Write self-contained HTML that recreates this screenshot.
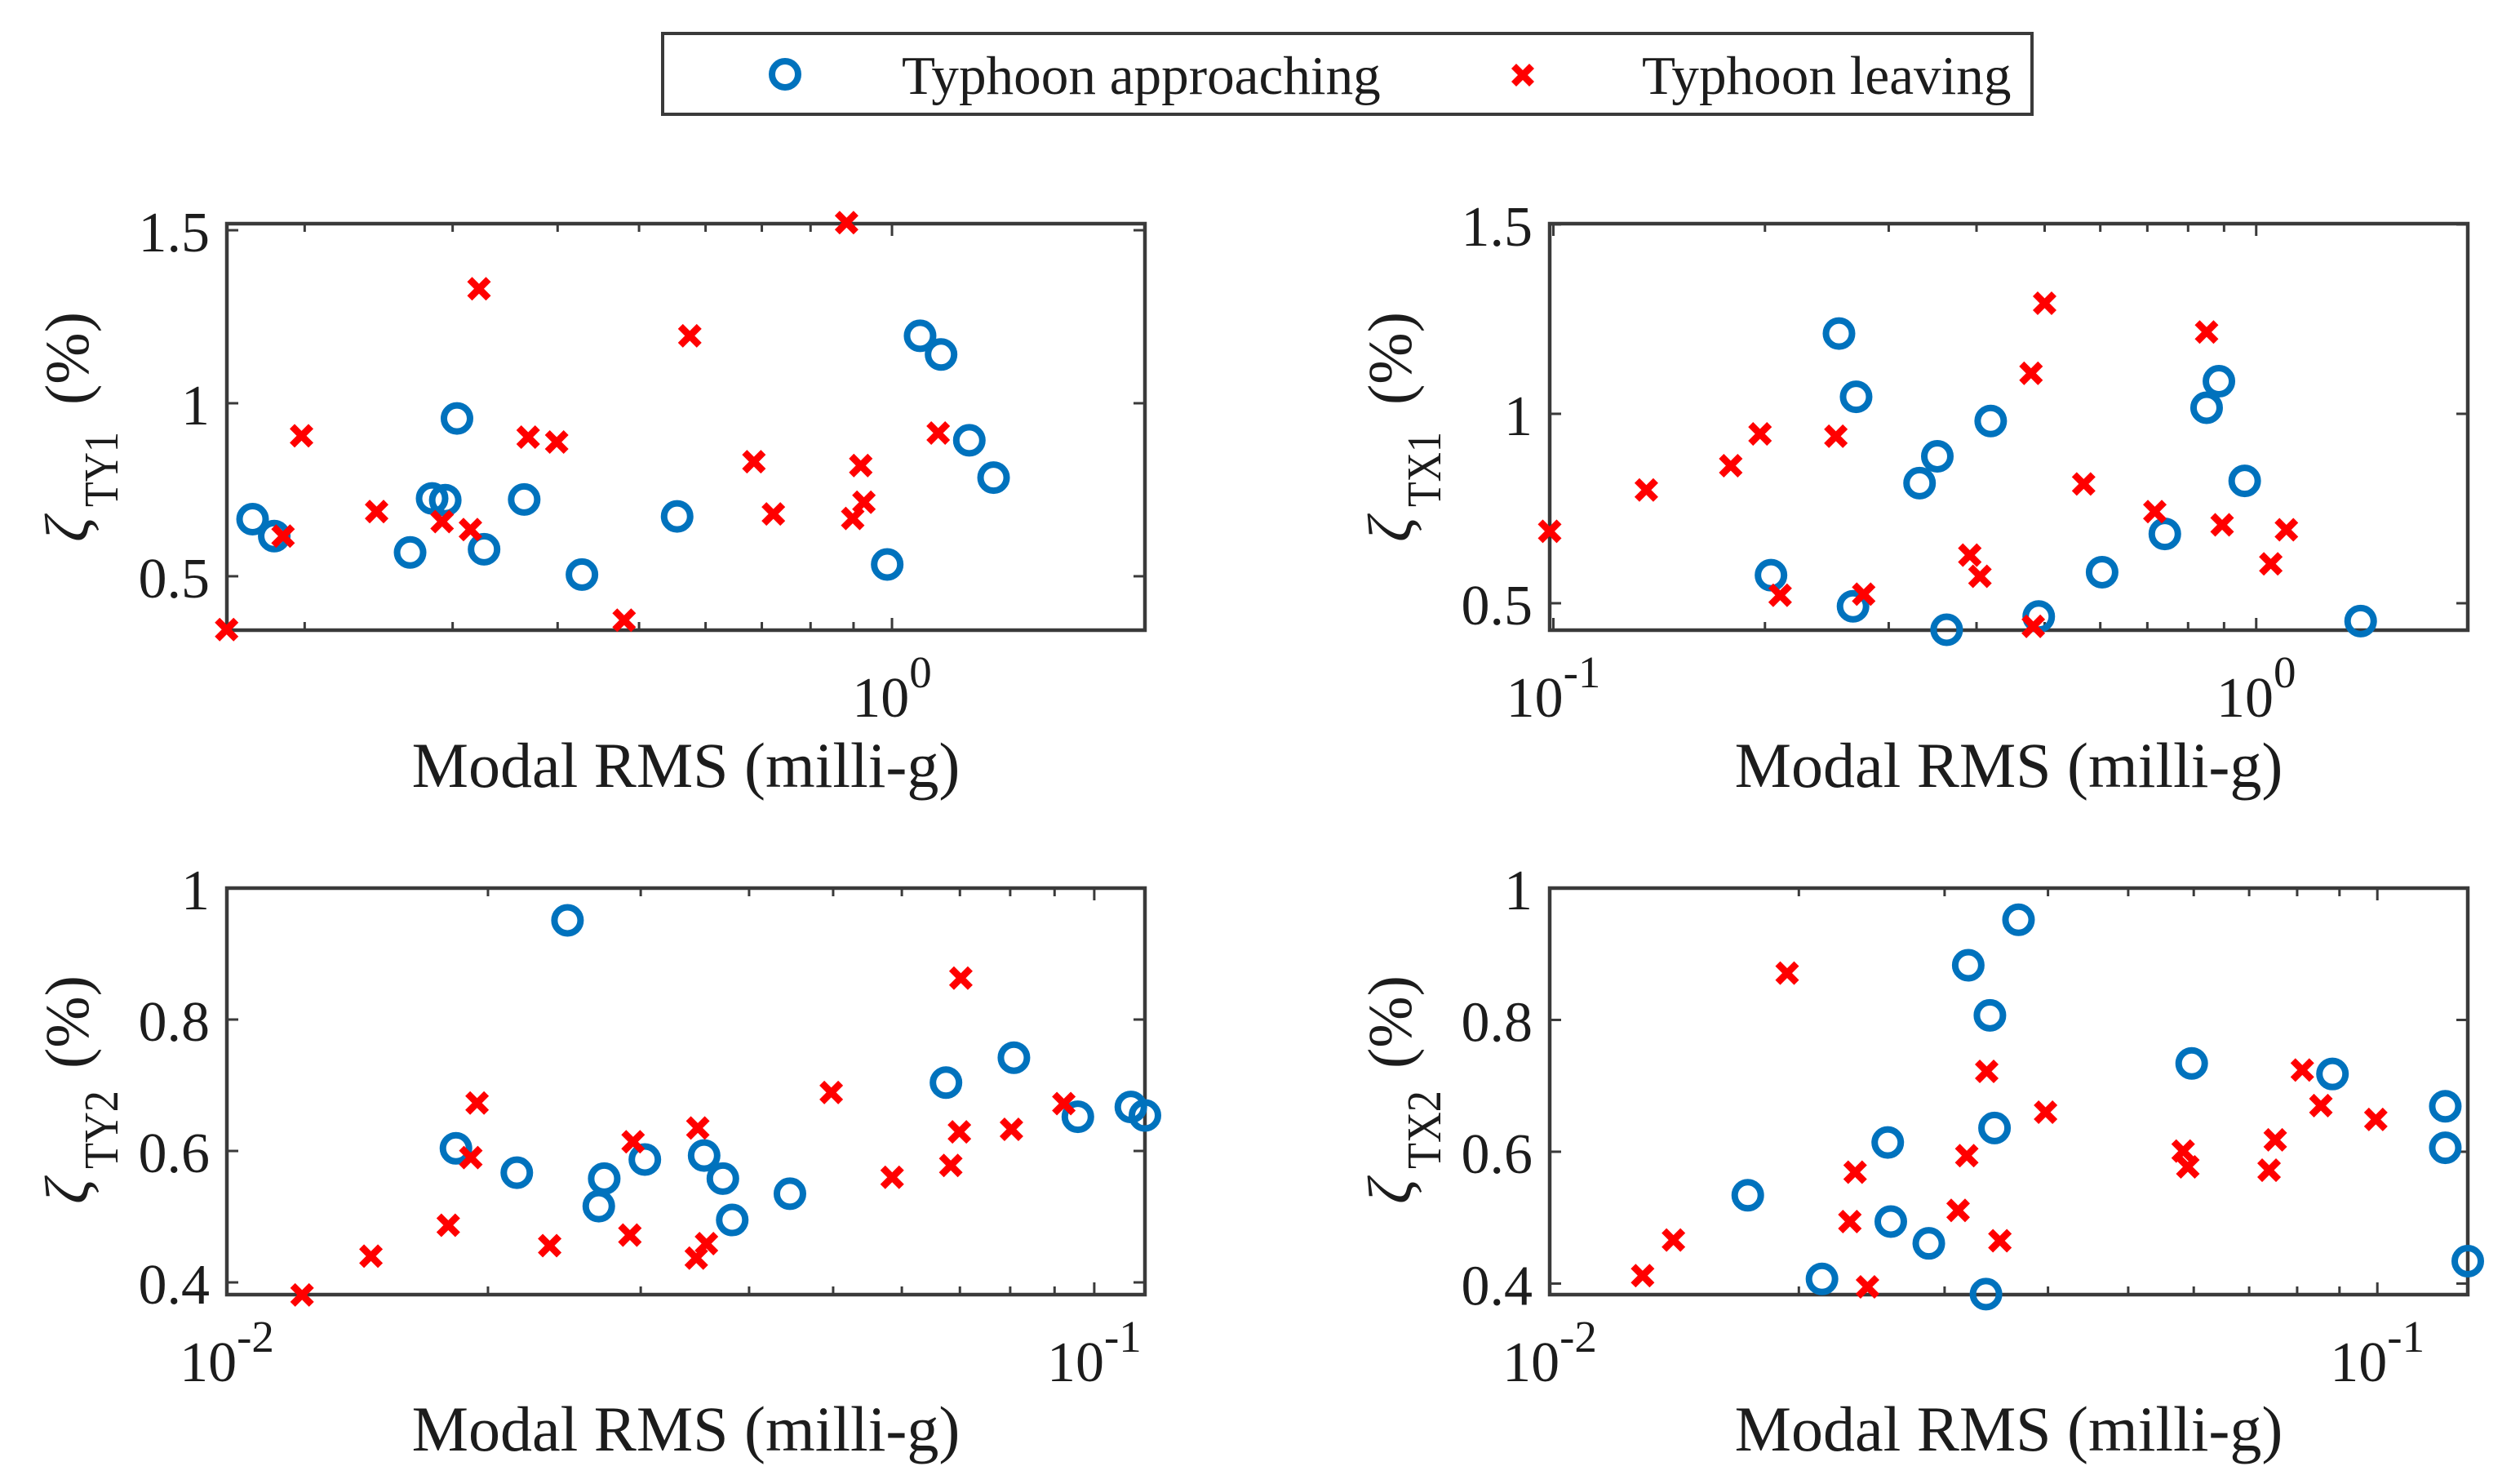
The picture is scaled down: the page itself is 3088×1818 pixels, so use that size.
<!DOCTYPE html>
<html lang="en">
<head>
<meta charset="utf-8">
<title>Modal damping versus modal RMS</title>
<style>
html,body{margin:0;padding:0;background:#fff;}
svg{display:block;}
text{font-family:"Liberation Serif","DejaVu Serif",serif;fill:#1c1c1c;}
</style>
</head>
<body>
<svg id="figure" xmlns="http://www.w3.org/2000/svg" width="3088" height="1818" viewBox="0 0 3088 1818">
  <rect x="0" y="0" width="3088" height="1818" fill="#ffffff"/>

  <g>
    <rect x="812" y="41" width="1678" height="99" fill="#fff" stroke="#3a3a3a" stroke-width="4"/>
    <circle cx="962" cy="91" r="16" fill="none" stroke="#0072BD" stroke-width="8"/>
    <text x="1105" y="115" font-size="67.2">Typhoon approaching</text>
    <g stroke="#ff0000" stroke-width="8.5">
      <line x1="1855" y1="81" x2="1877" y2="103"/>
      <line x1="1855" y1="103" x2="1877" y2="81"/>
    </g>
    <text x="2012" y="115" font-size="67.2">Typhoon leaving</text>
  </g>

  <g id="panel-ty1">
    <text x="840.5" y="964" font-size="78" text-anchor="middle">Modal RMS (milli-g)</text>
    <text transform="translate(108,664) rotate(-90)" font-size="76" font-style="italic">ζ</text>
    <text transform="translate(144,621) rotate(-90)" font-size="59" textLength="92" lengthAdjust="spacingAndGlyphs">TY1</text>
    <text transform="translate(108,496) rotate(-90)" font-size="76">(%)</text>
  </g>
  <g id="panel-tx1">
    <text x="2461.5" y="964" font-size="78" text-anchor="middle">Modal RMS (milli-g)</text>
    <text transform="translate(1729,664) rotate(-90)" font-size="76" font-style="italic">ζ</text>
    <text transform="translate(1765,621) rotate(-90)" font-size="59" textLength="92" lengthAdjust="spacingAndGlyphs">TX1</text>
    <text transform="translate(1729,496) rotate(-90)" font-size="76">(%)</text>
  </g>
  <g id="panel-ty2">
    <text x="840.5" y="1777" font-size="78" text-anchor="middle">Modal RMS (milli-g)</text>
    <text transform="translate(108,1475) rotate(-90)" font-size="76" font-style="italic">ζ</text>
    <text transform="translate(144,1432) rotate(-90)" font-size="59" textLength="96" lengthAdjust="spacingAndGlyphs">TY2</text>
    <text transform="translate(108,1309) rotate(-90)" font-size="76">(%)</text>
  </g>
  <g id="panel-tx2">
    <text x="2461.5" y="1777" font-size="78" text-anchor="middle">Modal RMS (milli-g)</text>
    <text transform="translate(1729,1475) rotate(-90)" font-size="76" font-style="italic">ζ</text>
    <text transform="translate(1765,1432) rotate(-90)" font-size="59" textLength="96" lengthAdjust="spacingAndGlyphs">TX2</text>
    <text transform="translate(1729,1309) rotate(-90)" font-size="76">(%)</text>
  </g>
</svg>

<script>
// TY1 data
const ty1ApproachX = [0.1734,0.184,0.267,0.2836,0.294,0.3036,0.327,0.365,0.4276,0.555,0.987,1.08,1.144,1.236,1.321];
const ty1ApproachY = [0.665,0.616,0.569,0.725,0.72,0.956,0.578,0.722,0.505,0.673,0.534,1.195,1.141,0.893,0.785];
const ty1LeavingX = [0.1615,0.1885,0.1983,0.2436,0.2915,0.315,0.3225,0.369,0.399,0.48,0.5746,0.685,0.7225,0.898,0.926,0.918,0.883,1.135];
const ty1LeavingY = [0.346,0.616,0.906,0.687,0.658,0.635,1.331,0.902,0.888,0.373,1.195,0.831,0.68,0.667,0.714,0.82,1.522,0.914];
const ty1YTicks = [0.5,1,1.5];
const ty1YLabels = ['0.5','1','1.5'];
const ty1XMajorTicks = [1];
const ty1XExponents = ['0'];
const ty1XMinorTicks = [0.2,0.3,0.4,0.5,0.6,0.7,0.8,0.9];

// TX1 data
const tx1ApproachX = [0.204,0.2669,0.2696,0.2549,0.3319,0.3518,0.419,0.3627,0.4904,0.6036,0.7413,0.85,0.885,0.963,1.408];
const tx1ApproachY = [0.574,0.492,1.045,1.212,0.817,0.888,0.981,0.43,0.465,0.582,0.683,1.016,1.086,0.823,0.453];
const tx1LeavingX = [0.0988,0.1356,0.1788,0.1968,0.2523,0.2102,0.2764,0.3913,0.4045,0.4818,0.4782,0.5,0.5682,0.7174,0.85,0.8944,1.049,1.104];
const tx1LeavingY = [0.69,0.799,0.863,0.947,0.941,0.521,0.524,0.627,0.571,0.439,1.107,1.292,0.815,0.742,1.216,0.707,0.604,0.694];
const tx1YTicks = [0.5,1,1.5];
const tx1YLabels = ['0.5','1','1.5'];
const tx1XMajorTicks = [0.1,1];
const tx1XExponents = ['-1','0'];
const tx1XMinorTicks = [0.2,0.3,0.4,0.5,0.6,0.7,0.8,0.9];

// TY2 data
const ty2ApproachX = [0.01837,0.02159,0.0247,0.02684,0.02723,0.03033,0.0355,0.03731,0.03825,0.04458,0.06746,0.08079,0.09574,0.1102,0.1144];
const ty2ApproachY = [0.604,0.567,0.951,0.516,0.558,0.587,0.593,0.558,0.495,0.535,0.704,0.742,0.652,0.667,0.654];
const ty2LeavingX = [0.01221,0.01466,0.018,0.01911,0.01943,0.02356,0.02915,0.0294,0.03477,0.03572,0.03491,0.04975,0.05848,0.06833,0.06991,0.07018,0.08027,0.09224];
const ty2LeavingY = [0.381,0.44,0.487,0.59,0.673,0.456,0.472,0.614,0.437,0.459,0.635,0.689,0.56,0.578,0.629,0.863,0.633,0.672];
const ty2YTicks = [0.4,0.6,0.8,1];
const ty2YLabels = ['0.4','0.6','0.8','1'];
const ty2XMajorTicks = [0.01,0.1];
const ty2XExponents = ['-2','-1'];
const ty2XMinorTicks = [0.02,0.03,0.04,0.05,0.06,0.07,0.08,0.09];

// TX2 data
const tx2ApproachX = [0.01735,0.02133,0.02561,0.02583,0.02871,0.03204,0.03366,0.03403,0.03447,0.03685,0.05966,0.08826,0.1208,0.1208,0.1286];
const tx2ApproachY = [0.534,0.407,0.614,0.494,0.461,0.883,0.384,0.807,0.636,0.952,0.734,0.718,0.669,0.606,0.434];
const tx2LeavingX = [0.01295,0.01411,0.01936,0.02305,0.02339,0.02421,0.03115,0.03191,0.03373,0.03499,0.03973,0.05826,0.05902,0.07399,0.07527,0.08116,0.08546,0.09957];
const tx2LeavingY = [0.412,0.466,0.871,0.494,0.569,0.395,0.511,0.594,0.722,0.465,0.66,0.601,0.577,0.572,0.618,0.724,0.67,0.649];
const tx2YTicks = [0.4,0.6,0.8,1];
const tx2YLabels = ['0.4','0.6','0.8','1'];
const tx2XMajorTicks = [0.01,0.1];
const tx2XExponents = ['-2','-1'];
const tx2XMinorTicks = [0.02,0.03,0.04,0.05,0.06,0.07,0.08,0.09];

const SVG_NS = 'http://www.w3.org/2000/svg';
const AXIS_COLOR = '#3a3a3a';

function make(tag, parent, attrs) {
  const el = document.createElementNS(SVG_NS, tag);
  for (const key in attrs) {
    el.setAttribute(key, attrs[key]);
  }
  parent.appendChild(el);
  return el;
}

function logScale(lo, hi, left, right) {
  return function (v) {
    return left + (Math.log10(v) - Math.log10(lo)) / (Math.log10(hi) - Math.log10(lo)) * (right - left);
  };
}

function linearScale(lo, hi, bottom, top) {
  return function (v) {
    return bottom + (v - lo) / (hi - lo) * (top - bottom);
  };
}

function tickLine(parent, x1, y1, x2, y2, name) {
  const el = make('line', parent, {x1: x1, y1: y1, x2: x2, y2: y2, stroke: AXIS_COLOR, 'stroke-width': 3});
  
  
}

function drawPanel(p) {
  const host = document.getElementById(p.id);
  const xs = logScale(p.xLim[0], p.xLim[1], p.left, p.right);
  const ys = linearScale(p.yLim[0], p.yLim[1], p.bottom, p.top);

  p.yTicks.forEach(function (v, i) {
    tickLine(host, p.left, ys(v), p.left + 14, ys(v), 'y-tick-left');
    tickLine(host, p.right, ys(v), p.right - 14, ys(v), 'y-tick-right');
    const label = make('text', host, {x: p.left - 21, y: ys(v) + 26, 'font-size': 70, 'text-anchor': 'end'});
    
    
    label.textContent = p.yLabels[i];
  });

  p.xMinor.forEach(function (v) {
    tickLine(host, xs(v), p.bottom, xs(v), p.bottom - 10, 'x-minor-tick-bottom');
    tickLine(host, xs(v), p.top, xs(v), p.top + 10, 'x-minor-tick-top');
  });

  p.xMajor.forEach(function (v, i) {
    tickLine(host, xs(v), p.bottom, xs(v), p.bottom - 15, 'x-major-tick-bottom');
    tickLine(host, xs(v), p.top, xs(v), p.top + 15, 'x-major-tick-top');
    const label = make('text', host, {x: xs(v), y: p.bottom + 106, 'font-size': 70, 'text-anchor': 'middle'});
    
    
    const base = make('tspan', label, {});
    base.textContent = '10';
    const sup = make('tspan', label, {dy: -36, 'font-size': 55});
    sup.textContent = p.xExponents[i];
  });

  const frame = make('rect', host, {x: p.left, y: p.top, width: p.right - p.left, height: p.bottom - p.top, fill: 'none', stroke: AXIS_COLOR, 'stroke-width': 4.5});
  
  

  p.approachX.forEach(function (v, i) {
    const dot = make('circle', host, {cx: xs(v), cy: ys(p.approachY[i]), r: 16, fill: 'none', stroke: '#0072BD', 'stroke-width': 8});
    
    
  });

  p.leavingX.forEach(function (v, i) {
    const cx = xs(v);
    const cy = ys(p.leavingY[i]);
    const mark = make('path', host, {d: 'M' + (cx - 11.5) + ' ' + (cy - 11.5) + 'L' + (cx + 11.5) + ' ' + (cy + 11.5) + 'M' + (cx - 11.5) + ' ' + (cy + 11.5) + 'L' + (cx + 11.5) + ' ' + (cy - 11.5), fill: 'none', stroke: '#ff0000', 'stroke-width': 8.5});
    
    
  });
}

drawPanel({id: 'panel-ty1', left: 278, right: 1403, top: 274, bottom: 772, xLim: [0.1616, 2], yLim: [0.3442, 1.519],
  xMajor: ty1XMajorTicks, xExponents: ty1XExponents, xMinor: ty1XMinorTicks, yTicks: ty1YTicks, yLabels: ty1YLabels,
  approachX: ty1ApproachX, approachY: ty1ApproachY, leavingX: ty1LeavingX, leavingY: ty1LeavingY});
drawPanel({id: 'panel-tx1', left: 1899, right: 3024, top: 274, bottom: 772, xLim: [0.0988, 2], yLim: [0.4289, 1.502],
  xMajor: tx1XMajorTicks, xExponents: tx1XExponents, xMinor: tx1XMinorTicks, yTicks: tx1YTicks, yLabels: tx1YLabels,
  approachX: tx1ApproachX, approachY: tx1ApproachY, leavingX: tx1LeavingX, leavingY: tx1LeavingY});
drawPanel({id: 'panel-ty2', left: 278, right: 1403, top: 1088, bottom: 1586, xLim: [0.01, 0.1144], yLim: [0.3814, 1],
  xMajor: ty2XMajorTicks, xExponents: ty2XExponents, xMinor: ty2XMinorTicks, yTicks: ty2YTicks, yLabels: ty2YLabels,
  approachX: ty2ApproachX, approachY: ty2ApproachY, leavingX: ty2LeavingX, leavingY: ty2LeavingY});
drawPanel({id: 'panel-tx2', left: 1899, right: 3024, top: 1088, bottom: 1586, xLim: [0.01, 0.1286], yLim: [0.3832, 1],
  xMajor: tx2XMajorTicks, xExponents: tx2XExponents, xMinor: tx2XMinorTicks, yTicks: tx2YTicks, yLabels: tx2YLabels,
  approachX: tx2ApproachX, approachY: tx2ApproachY, leavingX: tx2LeavingX, leavingY: tx2LeavingY});
</script>
</body>
</html>
